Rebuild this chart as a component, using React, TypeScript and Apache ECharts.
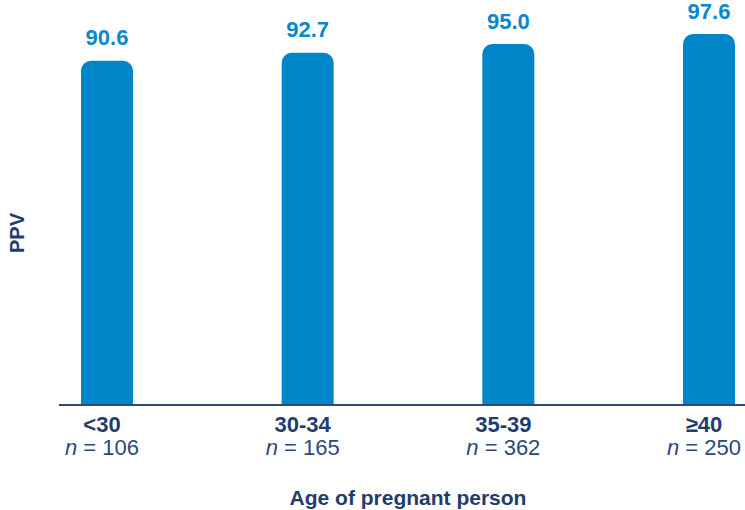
import React, { useEffect, useRef } from "react";
import * as echarts from "echarts";

const categories = ["<30", "30-34", "35-39", "≥40"];
const sampleSizes = ["106", "165", "362", "250"];
const ppvValues = [90.6, 92.7, 95.0, 97.6];
const xAxisTitle = "Age of pregnant person";
const yAxisTitle = "PPV";

const FONT = "'Liberation Sans', Arial, Helvetica, sans-serif";
const NAVY = "#1f3d6d";
const BLUE = "#0085c8";
const LABEL_BLUE = "#0a88cb";

export default function App() {
  const ref = useRef<HTMLDivElement>(null);
  useEffect(() => {
    if (!ref.current) return;
    const chart = echarts.init(ref.current, undefined, { renderer: "svg" });
    chart.setOption({
      animation: false,
      backgroundColor: "#ffffff",
      grid: { left: 107, right: 36, top: 25, bottom: 105, containLabel: false, outerBoundsMode: "none" },
      xAxis: {
        type: "category",
        data: categories,
        boundaryGap: false,
        axisLine: { show: false },
        axisTick: { show: false },
        name: xAxisTitle,
        nameLocation: "middle",
        nameGap: 82,
        nameTextStyle: { fontFamily: FONT, fontSize: 21, fontWeight: "bold", color: NAVY },
        axisLabel: {
          interval: 0,
          margin: 8,
          padding: [0, 10, 0, 0],
          formatter: (v: string, i: number) => `{b|${v}}\n{n|n}{r| = ${sampleSizes[i]}}`,
          rich: {
            b: { fontFamily: FONT, fontSize: 22, fontWeight: "bold", color: NAVY, lineHeight: 23, align: "center" },
            n: { fontFamily: FONT, fontSize: 22, fontStyle: "italic", color: "#2d4a78", lineHeight: 23 },
            r: { fontFamily: FONT, fontSize: 22, color: "#2d4a78", lineHeight: 23 },
          },
        },
      },
      yAxis: {
        type: "value",
        min: 0,
        max: 100,
        axisLine: { show: false },
        axisTick: { show: false },
        axisLabel: { show: false },
        splitLine: { show: false },
        name: yAxisTitle,
        nameLocation: "middle",
        nameGap: 80,
        nameRotate: 90,
        nameTextStyle: { fontFamily: FONT, fontSize: 20, fontWeight: "bold", color: NAVY, padding: [0, 36, 0, 0] },
      },
      series: [
        {
          type: "bar",
          data: ppvValues,
          barWidth: 52,
          clip: false,
          itemStyle: { color: BLUE, borderRadius: [10, 10, 0, 0] },
          label: {
            show: true,
            position: "top",
            distance: 12,
            formatter: (p: any) => Number(p.value).toFixed(1),
            fontFamily: FONT,
            fontSize: 22,
            fontWeight: "bold",
            color: LABEL_BLUE,
          },
        },
      ],
      graphic: [
        {
          type: "line",
          shape: { x1: 59, y1: 405, x2: 745, y2: 405 },
          style: { stroke: "#2b4a7a", lineWidth: 2 },
          z: 10,
        },
      ],
    });
    return () => chart.dispose();
  }, []);
  return <div ref={ref} style={{ width: 745, height: 510, position: "absolute", left: 0, top: 0 }} />;
}
